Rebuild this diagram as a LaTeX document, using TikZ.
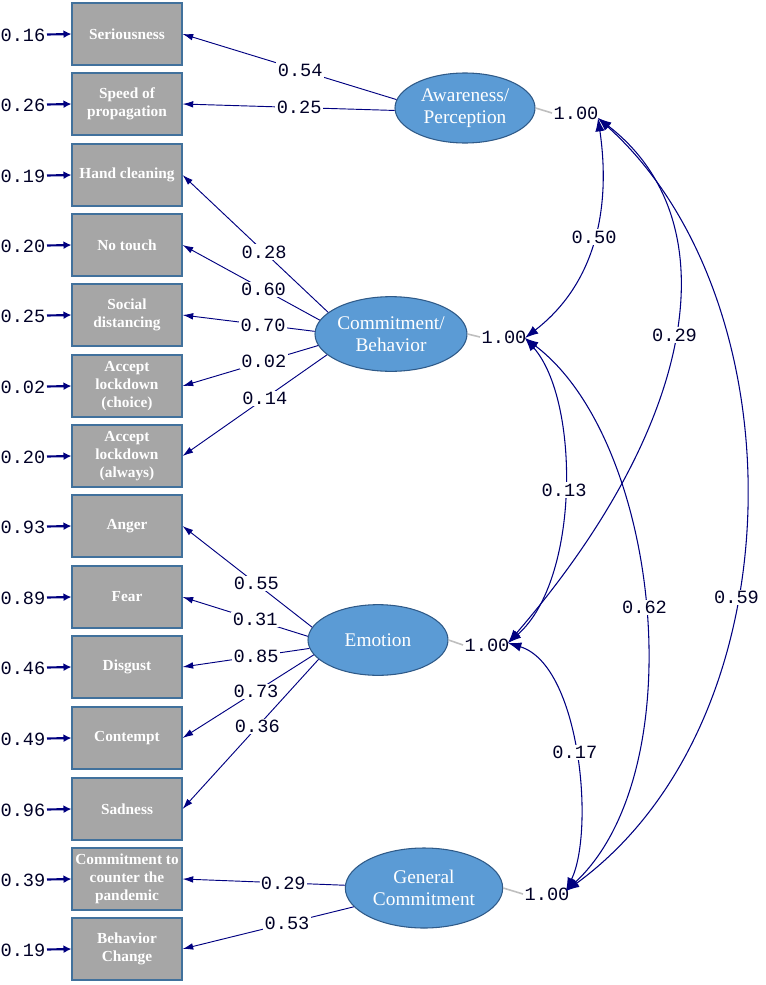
\documentclass[tikz,border=0pt]{standalone}
\usepackage{fontspec}
\setmainfont{Liberation Serif}
\setmonofont{Liberation Mono}
\usetikzlibrary{arrows.meta,shapes.geometric}

\definecolor{boxgray}{HTML}{A6A6A6}
\definecolor{boxline}{HTML}{41719C}
\definecolor{latfill}{HTML}{5B9BD5}
\definecolor{latline}{HTML}{2F5A88}
\definecolor{pathblue}{HTML}{000080}

\tikzset{
  obs/.style={draw=boxline,line width=1.3pt,fill=boxgray,text=white,
    minimum width=82pt,minimum height=46pt,inner sep=1pt,align=center,
    font=\fontsize{11.5}{13.5}\selectfont\bfseries},
  lat/.style={ellipse,draw=latline,line width=0.8pt,fill=latfill,text=white,
    inner sep=0pt,align=center,font=\fontsize{14.5}{16.3}\selectfont},
  num/.style={font=\fontsize{14}{14}\selectfont\ttfamily,text=black!85!blue,inner sep=1pt},
  lbl/.style={num,fill=white},
  load/.style={draw=pathblue,line width=0.7pt,-{Latex[length=8pt,width=5pt]}},
  errarr/.style={draw=pathblue,line width=1.6pt,-{Latex[length=6pt,width=6pt]}},
  corr/.style={draw=pathblue,line width=0.8pt,
    {Latex[length=10pt,width=7pt]}-{Latex[length=10pt,width=7pt]}},
  varline/.style={draw=black!25,line width=1.2pt}
}

\begin{document}
\begin{tikzpicture}[x=0.75pt,y=0.75pt,yscale=-1]
\useasboundingbox (0,0) rectangle (765,985);

% observed variables
\node[obs] (seri) at (127,34) {Seriousness};
\node[obs] (speed) at (127,104) {Speed of\\propagation};
\node[obs] (hand) at (127,175) {Hand cleaning};
\node[obs] (touch) at (127,245) {No touch};
\node[obs] (social) at (127,315) {Social\\distancing};
\node[obs] (lockc) at (127,386) {Accept\\lockdown\\(choice)};
\node[obs] (locka) at (127,456) {Accept\\lockdown\\(always)};
\node[obs] (anger) at (127,526) {Anger};
\node[obs] (fear) at (127,597) {Fear};
\node[obs] (disg) at (127,667) {Disgust};
\node[obs] (cont) at (127,738) {Contempt};
\node[obs] (sad) at (127,809) {Sadness};
\node[obs] (counter) at (127,879) {Commitment to\\counter the\\pandemic};
\node[obs] (change) at (127,949) {Behavior\\Change};

% error variances
\node[num] (eseri) at (23,35) {0.16};
\node[num] (espeed) at (23,105) {0.26};
\node[num] (ehand) at (23,176) {0.19};
\node[num] (etouch) at (23,246) {0.20};
\node[num] (esocial) at (23,316) {0.25};
\node[num] (elockc) at (23,387) {0.02};
\node[num] (elocka) at (23,457) {0.20};
\node[num] (eanger) at (23,527) {0.93};
\node[num] (efear) at (23,598) {0.89};
\node[num] (edisg) at (23,668) {0.46};
\node[num] (econt) at (23,739) {0.49};
\node[num] (esad) at (23,810) {0.96};
\node[num] (ecounter) at (23,880) {0.39};
\node[num] (echange) at (23,950) {0.19};

\foreach \v in {seri,speed,hand,touch,social,lockc,locka,anger,fear,disg,cont,sad,counter,change}
  \draw[errarr] (e\v) -- (\v.west);

% latent variables
\node[lat,minimum width=105pt,minimum height=52.5pt] (ap) at (465,108) {Awareness/\\Perception};
\node[lat,minimum width=114pt,minimum height=56pt] (cb) at (391,334) {Commitment/\\Behavior};
\node[lat,minimum width=105pt,minimum height=53pt] (em) at (378,640) {Emotion};
\node[lat,minimum width=118pt,minimum height=60pt] (gc) at (424,888) {General\\Commitment};

% variances of the factors
\node[num] (vap) at (576,113) {1.00};
\node[num] (vcb) at (504,337) {1.00};
\node[num] (vem) at (487,645) {1.00};
\node[num] (vgc) at (547,894) {1.00};
\draw[varline] (ap.east) -- (vap.west);
\draw[varline] (cb.east) -- (vcb.west);
\draw[varline] (em.east) -- (vem.west);
\draw[varline] (gc.east) -- (vgc.west);
\coordinate (tap) at (598,118);
\coordinate (tcb) at (525,338);
\coordinate (tem) at (508,643);
\coordinate (tgc) at (566,891);

% loadings
\draw[load] (ap.173) -- node[lbl,pos=0.45] {0.54} (seri.east);
\draw[load] (ap.182) -- node[lbl,pos=0.45] {0.25} (speed.east);

\draw[load] (cb.161) -- node[lbl,pos=0.44] {0.28} (hand.east);
\draw[load] (cb.169) -- node[lbl,pos=0.41] {0.60} (touch.east);
\draw[load] (cb.178) -- node[lbl,pos=0.39] {0.70} (social.east);
\draw[load] (cb.189) -- node[lbl,pos=0.40] {0.02} (lockc.east);
\draw[load] (cb.198) -- node[lbl,pos=0.43] {0.14} (locka.east);

\draw[load] (em.169) -- node[lbl,pos=0.43] {0.55} (anger.east);
\draw[load] (em.177) -- node[lbl,pos=0.42] {0.31} (fear.east);
\draw[load] (em.187) -- node[lbl,pos=0.42] {0.85} (disg.east);
\draw[load] (em.193) -- node[lbl,pos=0.44] {0.73} (cont.east);
\draw[load] (em.198) -- node[lbl,pos=0.45] {0.36} (sad.east);

\draw[load] (gc.178) -- node[lbl,pos=0.38] {0.29} (counter.east);
\draw[load] (gc.195) -- node[lbl,pos=0.39] {0.53} (change.east);

% correlations
\draw[corr] (tap) .. controls (610,200) and (600,280) .. node[lbl,pos=0.5] {0.50} (tcb);
\draw[corr] (tap) .. controls (730,220) and (700,420) .. node[lbl,pos=0.5] {0.29} (tem);
\draw[corr] (tap) .. controls (800,300) and (800,720) .. node[lbl,pos=0.6] {0.59} (tgc);
\draw[corr] (tcb) .. controls (580,400) and (580,580) .. node[lbl,pos=0.5] {0.13} (tem);
\draw[corr] (tcb) .. controls (660,440) and (695,770) .. node[lbl,pos=0.5] {0.62} (tgc);
\draw[corr] (tem) .. controls (580,665) and (595,830) .. node[lbl,pos=0.5] {0.17} (tgc);

\end{tikzpicture}
\end{document}
